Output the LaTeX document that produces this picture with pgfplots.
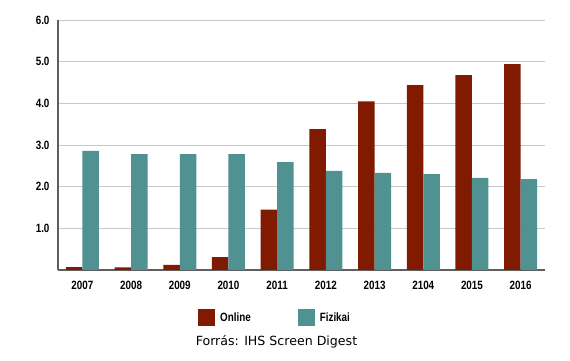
\documentclass[border=0pt]{standalone}
\usepackage{fontspec}
\setmainfont{DejaVu Sans}
\newfontfamily\narrowbold[FakeStretch=0.82]{Liberation Sans Bold}
\usepackage{pgfplots}
\pgfplotsset{compat=1.18}
\definecolor{online}{RGB}{128,26,0}
\definecolor{fizikai}{RGB}{80,145,145}
\definecolor{gridc}{RGB}{200,200,200}
\definecolor{axc}{RGB}{95,95,95}
\newcommand\tf{\narrowbold\fontsize{12pt}{14pt}\selectfont}
\begin{document}
\begin{tikzpicture}
\path[use as bounding box] (0,0) rectangle (570pt,361pt);
\begin{axis}[
  at={(58pt,91pt)}, anchor=south west,
  scale only axis, width=487pt, height=250pt,
  xmin=-0.5, xmax=9.5, ymin=0, ymax=6,
  ybar=0pt, bar width=16.5pt,
  xtick={0,...,9},
  xticklabels={2007,2008,2009,2010,2011,2012,2013,2104,2015,2016},
  ytick={1,2,3,4,5,6},
  /pgf/number format/fixed, /pgf/number format/fixed zerofill, /pgf/number format/precision=1,
  /pgf/number format/assume math mode=true,
  ymajorgrids, grid style={gridc, line width=1pt},
  major tick length=0pt,
  axis lines*=left,
  axis line style={axc, line width=1.5pt},
  xticklabel style={font=\tf, yshift=-8pt},
  yticklabel style={font=\tf, xshift=-5pt},
  clip=false,
  legend columns=2,
  legend style={draw=none, fill=none, inner sep=0pt, at={(rel axis cs:0.2875,-0.192)}, anchor=west,
    font=\tf, nodes={inner sep=0pt},
    /tikz/every odd column/.append style={column sep=5pt},
    /tikz/every even column/.append style={column sep=47pt}},
  legend image code/.code={\fill[#1] (0pt,-8.5pt) rectangle (17pt,8.5pt);},
]
\addplot[fill=online, draw=none] coordinates {(0,0.07) (1,0.06) (2,0.12) (3,0.31) (4,1.45) (5,3.38) (6,4.05) (7,4.44) (8,4.68) (9,4.94)};
\addplot[fill=fizikai, draw=none] coordinates {(0,2.86) (1,2.78) (2,2.78) (3,2.78) (4,2.59) (5,2.38) (6,2.33) (7,2.30) (8,2.21) (9,2.18)};
\legend{Online,Fizikai}
\end{axis}
\node[font=\fontsize{12.6pt}{14pt}\selectfont, inner sep=0pt] at (276.5pt,19.5pt) {Forrás: IHS Screen Digest};
\end{tikzpicture}
\end{document}
